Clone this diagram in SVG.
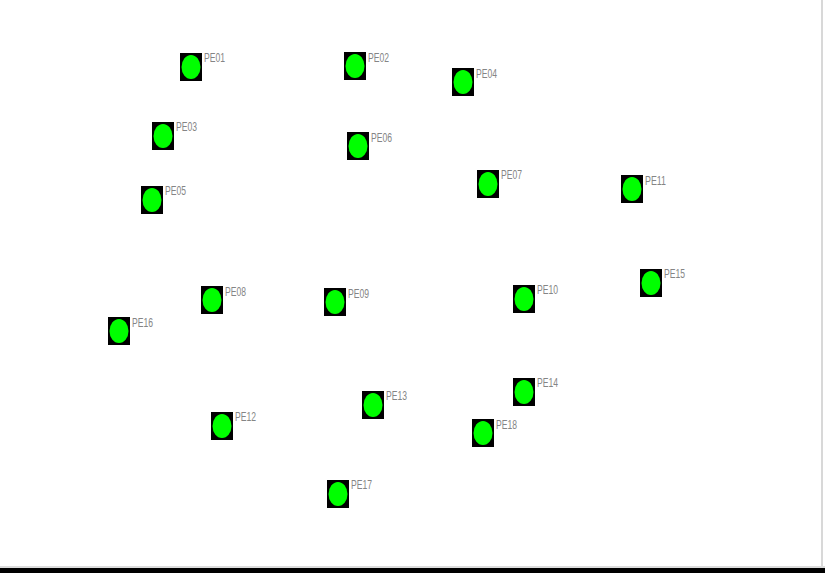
<svg xmlns="http://www.w3.org/2000/svg" width="825" height="573" viewBox="0 0 825 573">
<style>
.box{fill:#000}
.led{fill:#00ff00}
.lbl{font-family:"Liberation Sans",Arial,sans-serif;font-size:13.5px;fill:#858585}
</style>
<defs>
<g id="node"><rect class="box" x="0" y="0" width="22" height="28"/><ellipse class="led" cx="11" cy="14" rx="9.5" ry="12"/></g>
</defs>
<rect x="0" y="0" width="825" height="573" fill="#fff"/>
<rect x="821" y="0" width="2" height="568" fill="#d8d8d8"/>
<rect x="0" y="566" width="825" height="2" fill="#dcdcdc"/>
<rect x="0" y="568" width="825" height="5" fill="#000"/>
<g id="connectors"></g>
<g id="PE01"><use href="#node" x="180" y="53"/><text class="lbl" x="204" y="62" textLength="21" lengthAdjust="spacingAndGlyphs">PE01</text></g>
<g id="PE02"><use href="#node" x="344" y="52"/><text class="lbl" x="368" y="62" textLength="21" lengthAdjust="spacingAndGlyphs">PE02</text></g>
<g id="PE03"><use href="#node" x="152" y="122"/><text class="lbl" x="176" y="131" textLength="21" lengthAdjust="spacingAndGlyphs">PE03</text></g>
<g id="PE04"><use href="#node" x="452" y="68"/><text class="lbl" x="476" y="78" textLength="21" lengthAdjust="spacingAndGlyphs">PE04</text></g>
<g id="PE05"><use href="#node" x="141" y="186"/><text class="lbl" x="165" y="195" textLength="21" lengthAdjust="spacingAndGlyphs">PE05</text></g>
<g id="PE06"><use href="#node" x="347" y="132"/><text class="lbl" x="371" y="142" textLength="21" lengthAdjust="spacingAndGlyphs">PE06</text></g>
<g id="PE07"><use href="#node" x="477" y="170"/><text class="lbl" x="501" y="179" textLength="21" lengthAdjust="spacingAndGlyphs">PE07</text></g>
<g id="PE08"><use href="#node" x="201" y="286"/><text class="lbl" x="225" y="296" textLength="21" lengthAdjust="spacingAndGlyphs">PE08</text></g>
<g id="PE09"><use href="#node" x="324" y="288"/><text class="lbl" x="348" y="298" textLength="21" lengthAdjust="spacingAndGlyphs">PE09</text></g>
<g id="PE10"><use href="#node" x="513" y="285"/><text class="lbl" x="537" y="294" textLength="21" lengthAdjust="spacingAndGlyphs">PE10</text></g>
<g id="PE11"><use href="#node" x="621" y="175"/><text class="lbl" x="645" y="185" textLength="21" lengthAdjust="spacingAndGlyphs">PE11</text></g>
<g id="PE12"><use href="#node" x="211" y="412"/><text class="lbl" x="235" y="421" textLength="21" lengthAdjust="spacingAndGlyphs">PE12</text></g>
<g id="PE13"><use href="#node" x="362" y="391"/><text class="lbl" x="386" y="400" textLength="21" lengthAdjust="spacingAndGlyphs">PE13</text></g>
<g id="PE14"><use href="#node" x="513" y="378"/><text class="lbl" x="537" y="387" textLength="21" lengthAdjust="spacingAndGlyphs">PE14</text></g>
<g id="PE15"><use href="#node" x="640" y="269"/><text class="lbl" x="664" y="278" textLength="21" lengthAdjust="spacingAndGlyphs">PE15</text></g>
<g id="PE16"><use href="#node" x="108" y="317"/><text class="lbl" x="132" y="327" textLength="21" lengthAdjust="spacingAndGlyphs">PE16</text></g>
<g id="PE17"><use href="#node" x="327" y="480"/><text class="lbl" x="351" y="489" textLength="21" lengthAdjust="spacingAndGlyphs">PE17</text></g>
<g id="PE18"><use href="#node" x="472" y="419"/><text class="lbl" x="496" y="429" textLength="21" lengthAdjust="spacingAndGlyphs">PE18</text></g>
</svg>
